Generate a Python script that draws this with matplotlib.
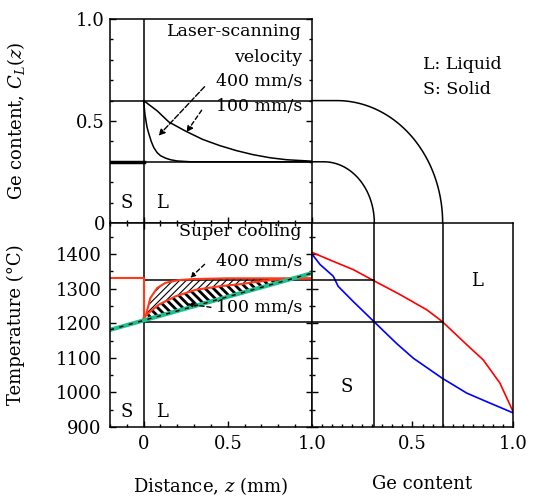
import numpy as np
import matplotlib
matplotlib.use('Agg')
import matplotlib.pyplot as plt
from matplotlib.ticker import MultipleLocator, FixedLocator

plt.rcParams['font.family'] = ['DejaVu Serif']
plt.rcParams['mathtext.fontset'] = 'dejavuserif'

# --- Ge content in the liquid, C_L(z) ---
z_c400 = [0.0, 0.008, 0.02, 0.03, 0.045, 0.06, 0.08, 0.1, 0.13, 0.16, 0.2, 0.28, 1.0]
c_c400 = [0.60, 0.53, 0.47, 0.44, 0.40, 0.37, 0.345, 0.33, 0.318, 0.31, 0.304, 0.30, 0.30]
z_c100 = [0.0, 0.04, 0.08, 0.15, 0.25, 0.35, 0.45, 0.55, 0.65, 0.75, 0.85, 1.0]
c_c100 = [0.60, 0.575, 0.55, 0.495, 0.45, 0.41, 0.38, 0.355, 0.335, 0.32, 0.31, 0.303]
c_levels = [0.3, 0.6]

# --- liquidus temperature along z ---
z_t400 = [0.0, 0.014, 0.04, 0.08, 0.13, 0.21, 0.3, 0.5, 1.0]
t_t400 = [1215, 1225, 1273, 1302, 1317, 1325, 1328, 1330, 1330]
z_t100 = [0.0, 0.03, 0.09, 0.19, 0.31, 0.45, 0.59, 0.64, 0.81, 1.0]
t_t100 = [1215, 1230, 1254, 1278, 1297, 1307, 1314, 1318, 1328, 1330]
t_melt_front = 1330      # liquidus at z < 0
z_actual = [-0.2, 1.0]   # actual temperature profile
t_actual = [1181, 1345]
t_levels = [1325, 1205]

# --- phase diagram ---
ge_liq = [0.0, 0.106, 0.206, 0.308, 0.438, 0.571, 0.648, 0.77, 0.852, 0.935, 1.0]
t_liq = [1405, 1379, 1355, 1323, 1283, 1239, 1205, 1138, 1094, 1027, 945]
ge_sol = [0.0, 0.04, 0.106, 0.13, 0.205, 0.308, 0.42, 0.504, 0.648, 0.77, 0.87, 1.0]
t_sol = [1400, 1370, 1336, 1307, 1263, 1205, 1142, 1099, 1041, 998, 973, 941]
ge_levels = [0.31, 0.65]

RED = '#ff3a1a'
GREEN = '#1fbf8f'
FS = 13

fig = plt.figure(figsize=(5.37, 4.96), dpi=100)
ax_c = fig.add_axes([0.2048, 0.5504, 0.3762, 0.4113])
ax_t = fig.add_axes([0.2048, 0.1391, 0.3762, 0.4113])
ax_g = fig.add_axes([0.5810, 0.1391, 0.3743, 0.4113])

for ax in (ax_c, ax_t, ax_g):
    for s in ax.spines.values():
        s.set_linewidth(1.1)
    ax.tick_params(which='both', direction='in', labelsize=FS, width=1.0)
    ax.tick_params(which='major', length=4)
    ax.tick_params(which='minor', length=2.5)

# top-left: concentration
ax_c.set_xlim(-0.2, 1.0)
ax_c.set_ylim(0, 1.0)
ax_c.plot(z_c400, c_c400, color='k', lw=1.1)
ax_c.plot(z_c100, c_c100, color='k', lw=1.1)
for c in c_levels:
    ax_c.axhline(c, color='k', lw=1.1)
ax_c.plot([-0.2, 0.0], [c_levels[0], c_levels[0]], color='k', lw=2.5)
ax_c.axvline(0, color='k', lw=1.1)
ax_c.yaxis.set_major_locator(FixedLocator([0, 0.5, 1.0]))
ax_c.yaxis.set_minor_locator(MultipleLocator(0.1))
ax_c.set_yticklabels(['0', '0.5', '1.0'])
ax_c.xaxis.set_major_locator(MultipleLocator(0.5))
ax_c.xaxis.set_minor_locator(MultipleLocator(0.1))
ax_c.tick_params(which='both', labelbottom=False, right=True, top=False)
ax_c.set_ylabel('Ge content, $C_L(z)$', fontsize=FS)
ax_c.yaxis.set_label_coords(-0.41, 0.5)
ax_c.text(0.94, 0.937, 'Laser-scanning', ha='right', va='center', fontsize=12.5)
ax_c.text(0.94, 0.81, 'velocity', ha='right', va='center', fontsize=12.5)
ax_c.text(0.94, 0.693, '400 mm/s', ha='right', va='center', fontsize=12.5)
ax_c.text(0.94, 0.571, '100 mm/s', ha='right', va='center', fontsize=12.5)
ax_c.text(-0.1, 0.10, 'S', ha='center', va='center', fontsize=FS)
ax_c.text(0.11, 0.10, 'L', ha='center', va='center', fontsize=FS)
ax_c.annotate('', xy=(0.077, 0.418), xytext=(0.373, 0.678),
              arrowprops=dict(arrowstyle='-|>', lw=1.0, ls=(0, (4, 1.5)), color='k', mutation_scale=9))
ax_c.annotate('', xy=(0.245, 0.434), xytext=(0.354, 0.564),
              arrowprops=dict(arrowstyle='-|>', lw=1.0, ls=(0, (3, 2)), color='k', mutation_scale=9))

# bottom-left: temperature
ax_t.set_xlim(-0.2, 1.0)
ax_t.set_ylim(900, 1490)
zz = np.linspace(0, 1.0, 400)
r400 = np.interp(zz, z_t400, t_t400)
r100 = np.interp(zz, z_t100, t_t100)
g = np.interp(zz, z_actual, t_actual)
with plt.rc_context({'hatch.linewidth': 0.8}):
    ax_t.fill_between(zz, r100, r400, where=r400 > r100 + 1, facecolor='none',
                      edgecolor='k', lw=0, hatch='/////')
with plt.rc_context({'hatch.linewidth': 2.0}):
    ax_t.fill_between(zz, g, r100, where=r100 > g, facecolor='none',
                      edgecolor='k', lw=0, hatch='\\\\\\\\')
for t in t_levels:
    ax_t.plot([0, 1.0], [t, t], color='k', lw=1.1)
ax_t.axvline(0, color='k', lw=1.1)
ax_t.plot([-0.2, 0.0, 0.0], [t_melt_front, t_melt_front, t_t400[0]], color=RED, lw=1.5)
ax_t.plot(z_t400, t_t400, color=RED, lw=1.5)
ax_t.plot(z_t100, t_t100, color=RED, lw=1.5)
ax_t.plot(z_actual, t_actual, color=GREEN, lw=3)
ax_t.plot(z_actual, t_actual, color='k', lw=1.0, ls=(0, (3, 4)))
ax_t.xaxis.set_major_locator(FixedLocator([0, 0.5, 1.0]))
ax_t.xaxis.set_minor_locator(MultipleLocator(0.1))
ax_t.set_xticklabels(['0', '0.5', '1.0'])
ax_t.yaxis.set_major_locator(MultipleLocator(100))
ax_t.yaxis.set_minor_locator(MultipleLocator(50))
ax_t.tick_params(which='both', top=True, right=True, pad=6)
ax_t.set_ylabel('Temperature (°C)', fontsize=FS)
ax_t.yaxis.set_label_coords(-0.42, 0.5)
ax_t.set_xlabel('Distance, $z$ (mm)', fontsize=FS)
ax_t.xaxis.set_label_coords(0.5, -0.235)
ax_t.text(0.94, 1464, 'Super cooling', ha='right', va='center', fontsize=12.5)
ax_t.text(0.94, 1380, '400 mm/s', ha='right', va='center', fontsize=12.5)
ax_t.text(0.94, 1246, '100 mm/s', ha='right', va='center', fontsize=12.5)
ax_t.text(-0.1, 944, 'S', ha='center', va='center', fontsize=FS)
ax_t.text(0.11, 944, 'L', ha='center', va='center', fontsize=FS)
ax_t.annotate('', xy=(0.265, 1326), xytext=(0.374, 1376),
              arrowprops=dict(arrowstyle='-|>', lw=1.0, ls=(0, (3, 2)), color='k', mutation_scale=7))
ax_t.annotate('', xy=(0.245, 1257), xytext=(0.416, 1245),
              arrowprops=dict(arrowstyle='-|>', lw=1.0, ls=(0, (3, 2)), color='k', mutation_scale=7))

# bottom-right: phase diagram
ax_g.set_xlim(0, 1.0)
ax_g.set_ylim(900, 1490)
ax_g.plot(ge_liq, t_liq, color='red', lw=1.2)
ax_g.plot(ge_sol, t_sol, color='blue', lw=1.2)
for ge in ge_levels:
    ax_g.axvline(ge, color='k', lw=1.1)
ax_g.plot([0, ge_levels[0]], [t_levels[0], t_levels[0]], color='k', lw=1.1)
ax_g.plot([0, ge_levels[1]], [t_levels[1], t_levels[1]], color='k', lw=1.1)
ax_g.xaxis.set_major_locator(FixedLocator([0.5, 1.0]))
ax_g.xaxis.set_minor_locator(MultipleLocator(0.05))
ax_g.set_xticklabels(['0.5', '1.0'])
ax_g.yaxis.set_major_locator(MultipleLocator(100))
ax_g.yaxis.set_minor_locator(MultipleLocator(50))
ax_g.tick_params(which='both', labelleft=False, pad=6)
ax_g.set_xlabel('Ge content', fontsize=FS)
ax_g.xaxis.set_label_coords(0.55, -0.235)
ax_g.text(0.82, 1321, 'L', ha='center', va='center', fontsize=FS)
ax_g.text(0.174, 1016, 'S', ha='center', va='center', fontsize=FS)

# quarter arcs linking C_L levels to Ge content
to_fig = fig.transFigure.inverted()
for c, ge in zip(c_levels, ge_levels):
    x0, y0 = to_fig.transform(ax_c.transData.transform((1.0, c)))
    x1, y1 = to_fig.transform(ax_g.transData.transform((ge, 1490)))
    xc = x0 + 0.19 * (x1 - x0)
    th = np.linspace(0, np.pi / 2, 60)
    ax_x = np.concatenate([[x0], xc + (x1 - xc) * np.sin(th)])
    ax_y = np.concatenate([[y0], y1 + (y0 - y1) * np.cos(th)])
    fig.add_artist(plt.Line2D(ax_x, ax_y, transform=fig.transFigure, color='k', lw=1.1))

fig.text(0.788, 0.869, 'L: Liquid', ha='left', va='center', fontsize=12.5)
fig.text(0.788, 0.819, 'S: Solid', ha='left', va='center', fontsize=12.5)

fig.savefig('out.png', dpi=100)
